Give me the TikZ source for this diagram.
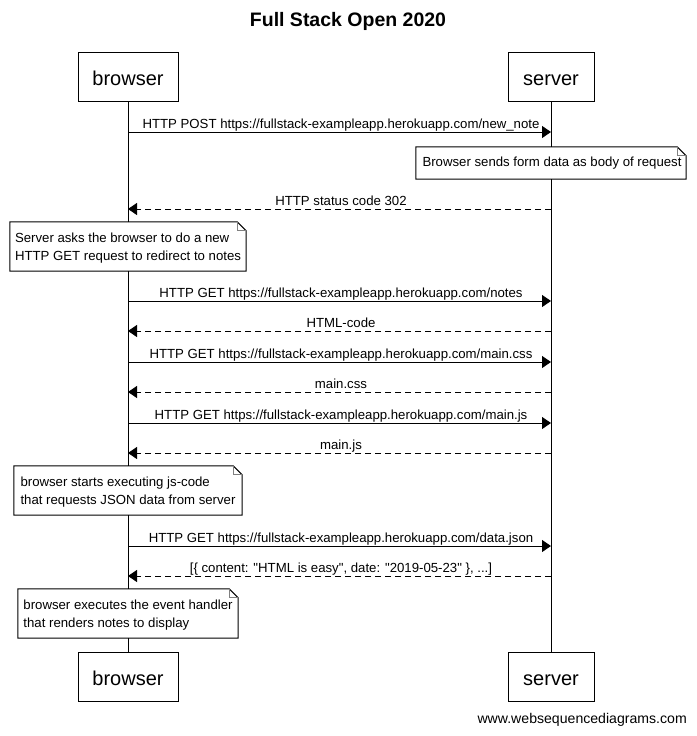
\documentclass[tikz,border=0pt]{standalone}
\usepackage{fontspec}
\setmainfont{Liberation Sans}
\newfontfamily\plainsans{Liberation Sans}
\usetikzlibrary{arrows.meta}
\begin{document}
\begin{tikzpicture}[x=1pt,y=-1pt,
  part/.style={draw, line width=1pt, fill=white, minimum height=49pt, inner sep=0pt, text height=17pt, text depth=0pt, font=\plainsans\fontsize{20}{24}\selectfont},
  life/.style={line width=1pt},
  msg/.style={line width=1pt, -{Triangle[length=9pt,width=12pt]}},
  reply/.style={msg, dash pattern=on 6pt off 4pt},
  lbl/.style={font=\plainsans\fontsize{13.2}{15}\selectfont, anchor=base, inner sep=0pt},
  notebox/.style={fill=white, inner sep=0pt},
  notetext/.style={font=\plainsans\fontsize{13.2}{18}\selectfont, align=left, inner sep=0pt},
  noteline/.style={draw, line width=1pt},
  fold/.style={draw=gray, line width=0.8pt},
]
\useasboundingbox (0,0) rectangle (696,736);
\node[font=\plainsans\bfseries\fontsize{19.5}{22}\selectfont] (title) at (348,21) {Full Stack Open 2020};

\node[part, minimum width=100pt] (bt) at (128,77) {browser};
\node[part, minimum width=86pt] (st) at (551,77) {server};
\node[part, minimum width=100pt] (bb) at (128,677) {browser};
\node[part, minimum width=86pt] (sb) at (551,677) {server};
\draw[life] (bt.south) -- (bb.north);
\draw[life] (st.south) -- (sb.north);

% message 1
\coordinate (b1) at (128,132); \coordinate (s1) at (551,132);
\draw[msg] (b1) -- (s1);
\node[lbl] (l1) at (341,128) {HTTP POST https://fullstack-exampleapp.herokuapp.com/new\_note};

% note 1
\node[notebox, minimum width=270pt, minimum height=32pt] (n1) at (551,163) {};
\node[notetext] (t1) at ([xshift=1pt,yshift=-0.5pt]n1.center) {Browser sends form data as body of request};
\draw[noteline] (n1.north west) -- ([xshift=-9pt]n1.north east) -- ([yshift=-9pt]n1.north east) -- (n1.south east) -- (n1.south west) -- cycle;
\draw[fold] ([xshift=-9pt]n1.north east) -- ([xshift=-9pt,yshift=-9pt]n1.north east) -- ([yshift=-9pt]n1.north east);

% message 2
\coordinate (s2) at (551,209); \coordinate (b2) at (128,209);
\draw[reply] (s2) -- (b2);
\node[lbl] (l2) at (341,205) {HTTP status code 302};

% note 2
\node[notebox, minimum width=236pt, minimum height=49pt] (n2) at (128,246.5) {};
\node[notetext] (t2) at ([yshift=-1.5pt]n2.center) {Server asks the browser to do a new\\HTTP GET request to redirect to notes};
\draw[noteline] (n2.north west) -- ([xshift=-9pt]n2.north east) -- ([yshift=-9pt]n2.north east) -- (n2.south east) -- (n2.south west) -- cycle;
\draw[fold] ([xshift=-9pt]n2.north east) -- ([xshift=-9pt,yshift=-9pt]n2.north east) -- ([yshift=-9pt]n2.north east);

% message 3
\coordinate (b3) at (128,301); \coordinate (s3) at (551,301);
\draw[msg] (b3) -- (s3);
\node[lbl] (l3) at (341,297) {HTTP GET https://fullstack-exampleapp.herokuapp.com/notes};

% message 4
\coordinate (s4) at (551,331); \coordinate (b4) at (128,331);
\draw[reply] (s4) -- (b4);
\node[lbl] (l4) at (341,327) {HTML-code};

% message 5
\coordinate (b5) at (128,362); \coordinate (s5) at (551,362);
\draw[msg] (b5) -- (s5);
\node[lbl] (l5) at (341,358) {HTTP GET https://fullstack-exampleapp.herokuapp.com/main.css};

% message 6
\coordinate (s6) at (551,392); \coordinate (b6) at (128,392);
\draw[reply] (s6) -- (b6);
\node[lbl] (l6) at (341,388) {main.css};

% message 7
\coordinate (b7) at (128,423); \coordinate (s7) at (551,423);
\draw[msg] (b7) -- (s7);
\node[lbl] (l7) at (341,419) {HTTP GET https://fullstack-exampleapp.herokuapp.com/main.js};

% message 8
\coordinate (s8) at (551,453); \coordinate (b8) at (128,453);
\draw[reply] (s8) -- (b8);
\node[lbl] (l8) at (341,449) {main.js};

% note 3
\node[notebox, minimum width=228pt, minimum height=49pt] (n3) at (128,490.5) {};
\node[notetext] (t3) at ([yshift=-1.5pt]n3.center) {browser starts executing js-code\\that requests JSON data from server};
\draw[noteline] (n3.north west) -- ([xshift=-9pt]n3.north east) -- ([yshift=-9pt]n3.north east) -- (n3.south east) -- (n3.south west) -- cycle;
\draw[fold] ([xshift=-9pt]n3.north east) -- ([xshift=-9pt,yshift=-9pt]n3.north east) -- ([yshift=-9pt]n3.north east);

% message 9
\coordinate (b9) at (128,546); \coordinate (s9) at (551,546);
\draw[msg] (b9) -- (s9);
\node[lbl] (l9) at (341,542) {HTTP GET https://fullstack-exampleapp.herokuapp.com/data.json};

% message 10
\coordinate (s10) at (551,576); \coordinate (b10) at (128,576);
\draw[reply] (s10) -- (b10);
\node[lbl] (l10) at (341,572) {[\{ content: "HTML is easy", date: "2019-05-23" \}, ...]};

% note 4
\node[notebox, minimum width=220pt, minimum height=49pt] (n4) at (128,613.5) {};
\node[notetext] (t4) at ([yshift=-1.5pt]n4.center) {browser executes the event handler\\that renders notes to display};
\draw[noteline] (n4.north west) -- ([xshift=-9pt]n4.north east) -- ([yshift=-9pt]n4.north east) -- (n4.south east) -- (n4.south west) -- cycle;
\draw[fold] ([xshift=-9pt]n4.north east) -- ([xshift=-9pt,yshift=-9pt]n4.north east) -- ([yshift=-9pt]n4.north east);

\node[font=\plainsans\fontsize{14.1}{16}\selectfont, anchor=east, inner sep=0pt] (wm) at (687,720) {www.websequencediagrams.com};
\end{tikzpicture}
\end{document}
